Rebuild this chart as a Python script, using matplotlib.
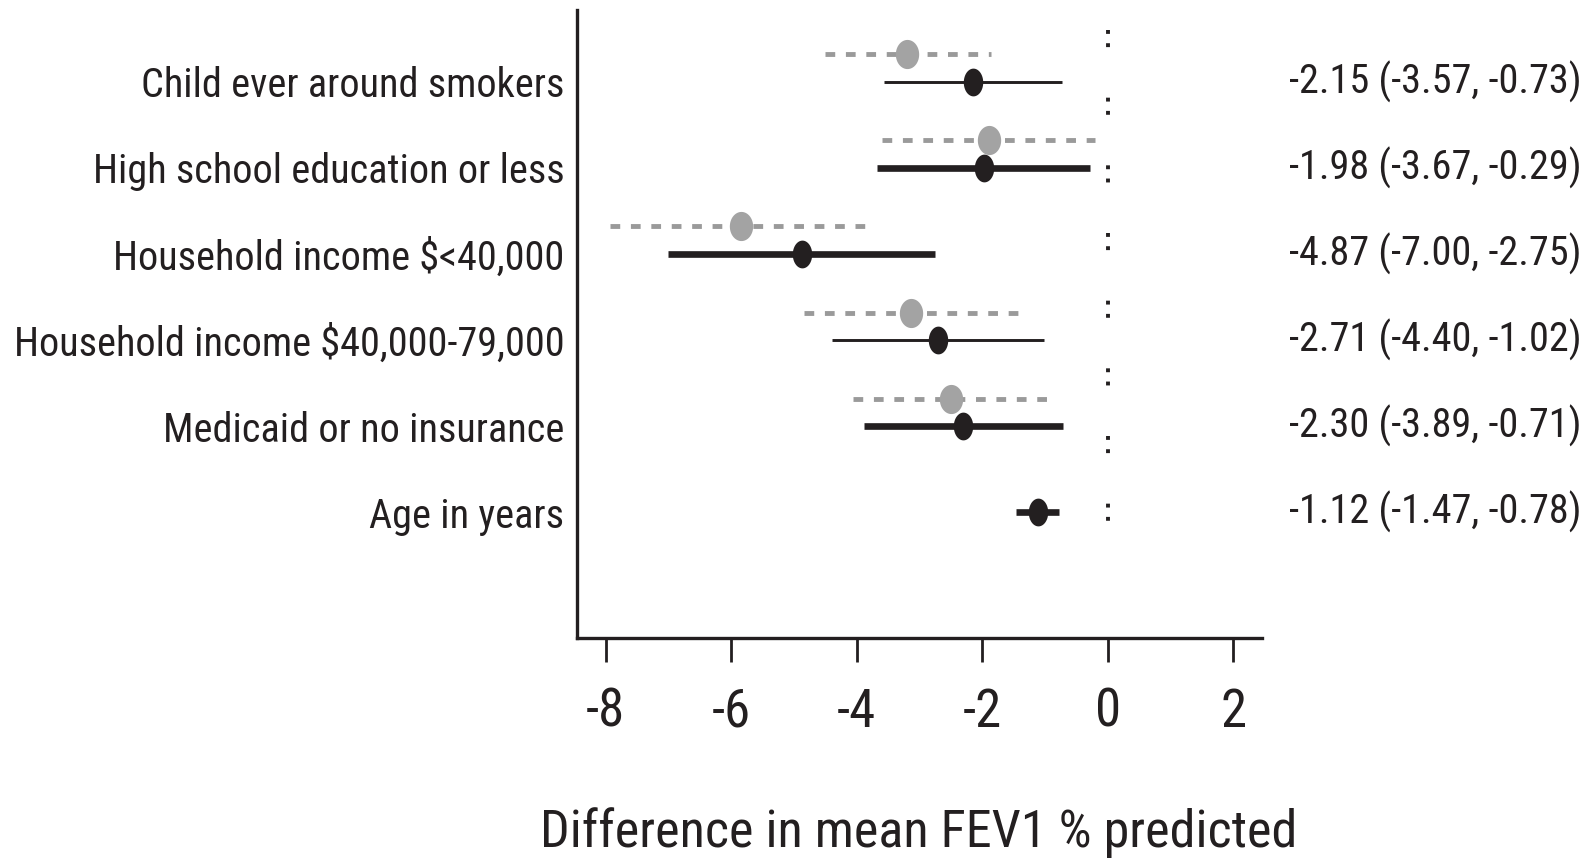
import numpy as np
import matplotlib
matplotlib.use('Agg')
import matplotlib.pyplot as plt
from matplotlib import font_manager
from matplotlib.font_manager import FontProperties
from matplotlib.path import Path
from matplotlib.transforms import blended_transform_factory

plt.rcParams['axes.unicode_minus'] = False

labels = ['Child ever around smokers', 'High school education or less',
          'Household income $<40,000', 'Household income $40,000-79,000',
          'Medicaid or no insurance', 'Age in years']

# adjusted estimates (black) with 95% CI
est = [-2.15, -1.98, -4.87, -2.71, -2.30, -1.12]
lo = [-3.57, -3.67, -7.00, -4.40, -3.89, -1.47]
hi = [-0.73, -0.29, -2.75, -1.02, -0.71, -0.78]
thick = [False, True, True, False, True, True]

# unadjusted estimates (gray, dashed), no row for age
gray_est = [-3.20, -1.90, -5.84, -3.14, -2.49]
gray_lo = [-4.50, -3.59, -7.93, -4.84, -4.06]
gray_hi = [-1.86, -0.21, -3.79, -1.42, -0.90]

xticks = [-8, -6, -4, -2, 0, 2]

black = '#231f20'
gray = '#9a9a9a'


# look for a narrow / condensed sans face, the original uses an Arial Narrow look
def find_narrow():
    prefs = ['liberation sans narrow', 'arial narrow', 'roboto condensed',
             'noto sans condensed', 'open sans condensed', 'dejavu sans condensed']
    found = {}
    for f in font_manager.fontManager.ttflist:
        fn = f.fname.lower()
        key = (f.name + ' ' + str(f.stretch)).lower()
        if f.style != 'normal' or f.weight not in (400, 'normal', 'regular'):
            continue
        if 'bold' in fn or 'italic' in fn or 'light' in fn or 'medium' in fn:
            continue
        for p in prefs:
            base = p.rsplit(' ', 1)[0]
            if p in f.name.lower() or (base in f.name.lower() and
                                       ('condensed' in key or 'narrow' in key or
                                        'condensed' in fn or 'narrow' in fn)):
                if 'semi' in fn or 'extra' in fn:
                    continue
                found.setdefault(p, f.fname)
    for p in prefs:
        if p in found:
            return found[p], True
    return font_manager.findfont('Liberation Sans'), False


font_path, narrow = find_narrow()
scale = 1.0 if narrow else 0.88


def fp(size):
    return FontProperties(fname=font_path, size=size * scale)


def ellipse(ratio):
    t = np.linspace(0, 2 * np.pi, 60)
    return Path(np.column_stack([ratio * np.sin(t), np.cos(t)]))


fig = plt.figure(figsize=(15.93, 8.6), dpi=100)
ax = fig.add_axes([0.362, 0.258, 0.430, 0.730])

off = 0.32
for i in range(len(gray_est)):
    y = i - off
    ax.plot([gray_lo[i], gray_hi[i]], [y, y], color=gray, lw=3.5,
            linestyle=(0, (2, 2.2)), dash_capstyle='butt', zorder=2)
    ax.plot(gray_est[i], y, marker=ellipse(0.8), color='#a3a3a3',
            markersize=21, markeredgewidth=0, linestyle='none', zorder=3)

for i in range(len(est)):
    ax.plot([lo[i], hi[i]], [i, i], color=black,
            lw=4.8 if thick[i] else 2.1, solid_capstyle='butt', zorder=4)
    ax.plot(est[i], i, marker=ellipse(0.7), color=black,
            markersize=20, markeredgewidth=0, linestyle='none', zorder=5)

# reference line at zero
ax.plot([0, 0], [-0.6, 5.2], color=black, lw=2.8,
        linestyle=(0, (1, 2.4, 1, 13)), dash_capstyle='butt', zorder=1)

trans = blended_transform_factory(fig.transFigure, ax.transData)
for i in range(len(est)):
    ax.text(0.993, i, '{:.2f} ({:.2f}, {:.2f})'.format(est[i], lo[i], hi[i]),
            transform=trans, ha='right', va='center', fontproperties=fp(29),
            color=black)

ax.set_xlim(-8.46, 2.45)
ax.set_ylim(6.46, -0.83)
ax.set_yticks(range(len(labels)))
ax.set_yticklabels(labels, fontproperties=fp(29), color=black)
ax.set_xticks(xticks)
ax.set_xticklabels([str(v) for v in xticks], fontproperties=fp(38), color=black)
ax.tick_params(axis='y', length=0, pad=9)
ax.tick_params(axis='x', length=17, width=2, color=black, pad=18)
ax.set_xlabel('Difference in mean FEV1 % predicted', fontproperties=fp(37.5),
              color=black, labelpad=50)

for s in ['top', 'right']:
    ax.spines[s].set_visible(False)
for s in ['left', 'bottom']:
    ax.spines[s].set_linewidth(2.4)
    ax.spines[s].set_color(black)

fig.savefig('out.png', dpi=100)
